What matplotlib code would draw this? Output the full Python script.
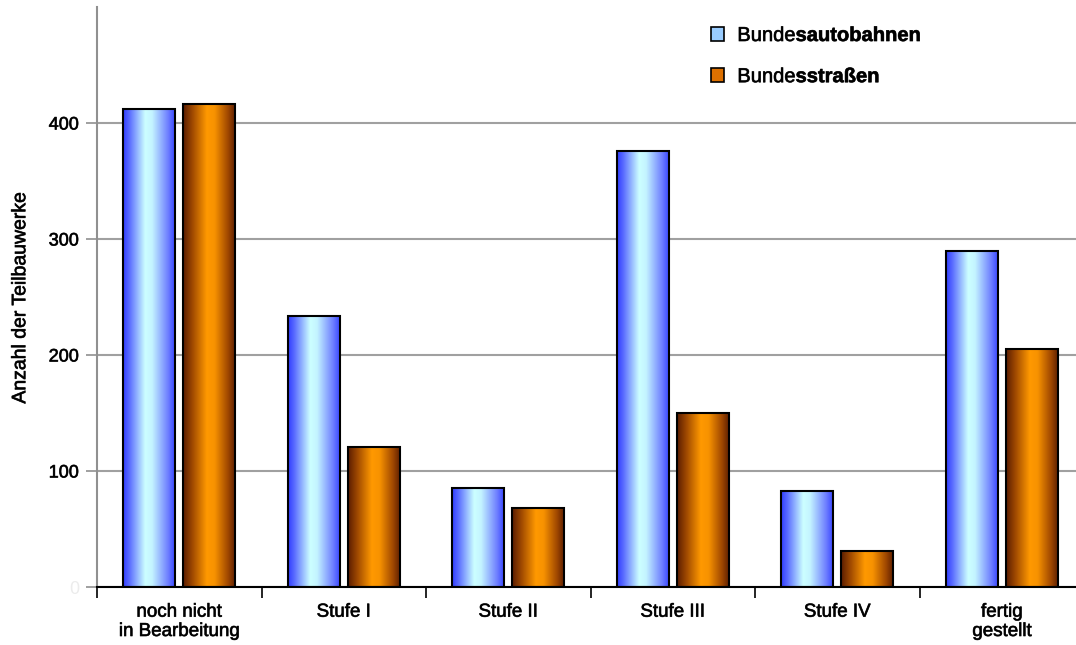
import numpy as np
import matplotlib
matplotlib.use("Agg")
import matplotlib.pyplot as plt
import matplotlib.patheffects as pe
from matplotlib.colors import LinearSegmentedColormap
from matplotlib.patches import Rectangle

plt.rcParams['font.family'] = ['Liberation Sans', 'DejaVu Sans']
plt.rcParams['mathtext.fontset'] = 'custom'
plt.rcParams['mathtext.rm'] = 'Liberation Sans'
plt.rcParams['mathtext.bf'] = 'Liberation Sans:bold'

# Data
categories = ['noch nicht\nin Bearbeitung', 'Stufe I', 'Stufe II',
              'Stufe III', 'Stufe IV', 'fertig\ngestellt']
autobahnen = [412, 234, 85, 376, 83, 290]
strassen = [416, 121, 68, 150, 31, 205]
series_labels = [r'Bunde$\mathbf{sautobahnen}$', r'Bunde$\mathbf{sstraßen}$']
y_ticks = [0, 100, 200, 300, 400]

# Horizontal shading across each bar (dark edges, bright core)
blue_cmap = LinearSegmentedColormap.from_list(
    'blue_bar', [(0.0, '#2f3cff'), (0.12, '#5a6cff'), (0.42, '#ccffff'),
                 (0.55, '#c4f4ff'), (0.85, '#6f80ff'), (1.0, '#3340ff')])
orange_cmap = LinearSegmentedColormap.from_list(
    'orange_bar', [(0.0, '#5a1c00'), (0.18, '#a04a00'), (0.45, '#ff9900'),
                   (0.6, '#f79200'), (0.85, '#a04800'), (1.0, '#5a1c00')])

# slightly heavier text
heavy = [pe.withStroke(linewidth=0.5, foreground='#222222')]

fig = plt.figure(figsize=(10.76, 6.45), dpi=100)
ax = fig.add_axes([97 / 1076, 58 / 645, 987 / 1076, 580 / 645])

x = np.arange(len(categories))
width = 0.317
offset = 0.183

def shaded_bars(xpos, values, cmap):
    bars = ax.bar(xpos, values, width, facecolor='none', edgecolor='black',
                  linewidth=1.5, zorder=3)
    grad = np.linspace(0, 1, 256).reshape(1, -1)
    for b in bars:
        x0, w, h = b.get_x(), b.get_width(), b.get_height()
        im = ax.imshow(grad, cmap=cmap, aspect='auto', extent=(x0, x0 + w, 0, h),
                       interpolation='bilinear', zorder=2)
        im.set_clip_path(b)
    return bars

shaded_bars(x - offset, autobahnen, blue_cmap)
shaded_bars(x + offset, strassen, orange_cmap)

ax.set_xlim(-0.5, len(categories) - 0.5)
ax.set_ylim(0, 500)

# Gridlines and axes
ax.set_yticks(y_ticks)
ax.set_yticklabels([str(t) for t in y_ticks])
ax.yaxis.grid(True, color='#a0a0a0', linewidth=1.5, zorder=0)
ax.set_axisbelow(True)
ax.tick_params(axis='y', direction='out', length=8, width=1.2, color='#909090',
               labelsize=13, pad=5)
for lbl in ax.get_yticklabels():
    if lbl.get_text() == '0':
        lbl.set_color('#ececec')
    else:
        lbl.set_path_effects(heavy)

ax.set_xticks(np.arange(len(categories) + 1) - 0.5, minor=True)
ax.set_xticks(x)
ax.set_xticklabels(categories, linespacing=1.18)
ax.tick_params(axis='x', which='major', length=0, labelsize=13.5, pad=12)
ax.tick_params(axis='x', which='minor', direction='out', length=8, width=1.2,
               color='black')
for lbl in ax.get_xticklabels():
    lbl.set_path_effects(heavy)

ax.spines['top'].set_visible(False)
ax.spines['right'].set_visible(False)
ax.spines['left'].set_color('#909090')
ax.spines['left'].set_linewidth(1.5)
ax.spines['bottom'].set_color('black')
ax.spines['bottom'].set_linewidth(1.5)

ylab = ax.set_ylabel('Anzahl der Teilbauwerke', fontsize=14, labelpad=14)
ylab.set_path_effects(heavy)

# Legend
legend_handles = [Rectangle((0, 0), 1, 1, facecolor='#99ccff', edgecolor='black', lw=1.2),
                  Rectangle((0, 0), 1, 1, facecolor='#dd7000', edgecolor='black', lw=1.2)]
leg = ax.legend(legend_handles, series_labels, loc='upper left',
                bbox_to_anchor=(693 / 1076, 1 - 8 / 645), bbox_transform=fig.transFigure,
                frameon=False, fontsize=14.5, handlelength=0.65, handleheight=0.65,
                handletextpad=0.65, labelspacing=1.1)
for t in leg.get_texts():
    t.set_path_effects(heavy)

fig.savefig('out.png', dpi=100)
